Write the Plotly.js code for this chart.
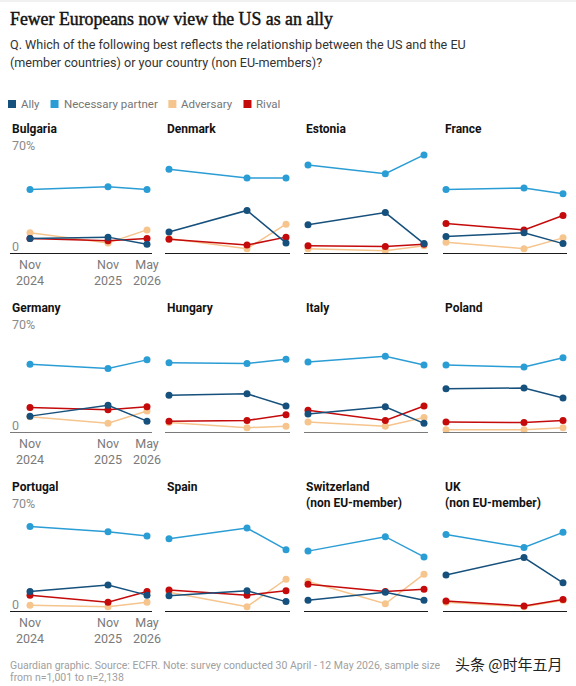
<!DOCTYPE html>
<html><head><meta charset="utf-8">
<script src="https://cdn.plot.ly/plotly-3.0.1.min.js"></script>
<style>html,body{margin:0;padding:0;background:#fff}</style>
</head><body><div id="chart" style="width:576px;height:686px"></div>
<script>
// ---- data ----
const countries = ['Bulgaria','Denmark','Estonia','France','Germany','Hungary','Italy','Poland','Portugal','Spain','Switzerland<br>(non EU-member)','UK<br>(non EU-member)'];
const months = [0, 12, 18]; // months since Nov 2024
const tickLabels = ['Nov<br>2024','Nov<br>2025','May<br>2026'];
const seriesNames = ['Ally','Necessary partner','Adversary','Rival'];
const ally      = [[10,11,6],[14.5,29.5,7],[19.5,28,6.5],[11.5,14,6.5],[11,18.5,7.5],[25.5,26.5,18],[12.5,17.5,6],[30,30.5,23.5],[13.5,18,11],[10.5,14,6.5],[7.5,13,7.5],[25,37,19.5]];
const partner   = [[44,46,44],[58,52,52],[61,55,68],[44,45,41],[47,44,50],[48,47.5,50.5],[48.5,52.5,46.5],[46.5,45,51.5],[58.5,55,52],[50,57.5,42.5],[41.5,51.5,37.5],[53,44,54.5]];
const adversary = [[14,7,16],[10,3,20],[3,1.5,5],[7.5,3,10.5],[10.5,6,14.5],[6.5,3,4],[7,4,10],[1.5,1.5,3],[4,3,6],[13,3,22],[20.5,5,25.5],[6,3,7.5]];
const rival     = [[10,8.5,10],[9.5,5.5,11],[5,4.5,6],[20.5,16,26],[17,15.5,17.5],[7.5,8,12],[15,8,18],[7,6.5,8],[11,6,13.5],[14.5,11,14],[18.5,13.5,15],[7,3.5,8]];
const yTickVals = [0, 70];
const yTickText = ['0', '70%'];

// ---- styling / layout ----
const colors = {'Ally':'#16507c','Necessary partner':'#2b9dd5','Adversary':'#f6c48d','Rival':'#c40a0a'};
const seriesData = {'Ally':ally,'Necessary partner':partner,'Adversary':adversary,'Rival':rival};
const drawOrder = ['Adversary','Rival','Ally','Necessary partner'];
const W = 576, H = 686;
const SANS = 'Roboto, "Noto Sans", sans-serif';
const colPix = [[10,152,30,147],[165,290,169,286],[304,428,308,424],[443,567,446,563]];
const rowBase = [253,432,611];
const plotH = 101;
const baseColor = ['#1a1a1a','#7a7a7a','#1a1a1a'];
const px = p => p / W;
const py = p => 1 - p / H;

const traces = [];
const layout = {
  width: W, height: H,
  margin: {l:0, r:0, t:0, b:0},
  paper_bgcolor: '#fff', plot_bgcolor: 'rgba(0,0,0,0)',
  showlegend: false,
  font: {family: SANS},
  annotations: [], shapes: []
};

countries.forEach((name, i) => {
  const r = Math.floor(i / 4), c = i % 4;
  const id = i === 0 ? '' : String(i + 1);
  const [a, b, p0, p1] = colPix[c];
  const k = (p1 - p0) / (months[months.length-1] - months[0]);
  const base = rowBase[r];
  layout['xaxis' + id] = {
    domain: [px(a), px(b)], anchor: 'y' + id,
    range: [months[0] - (p0 - a) / k, months[months.length-1] + (b - p1) / k],
    showline: true, linecolor: baseColor[r], linewidth: 1,
    showgrid: false, zeroline: false, ticks: '',
    tickvals: months, ticktext: tickLabels,
    showticklabels: c === 0,
    tickfont: {family: SANS, size: 12.5, color: '#7a7a7a'},
    fixedrange: true
  };
  layout['yaxis' + id] = {
    domain: [py(base), py(base - plotH)], anchor: 'x' + id,
    range: [yTickVals[0], yTickVals[1]],
    showline: false, showgrid: false, zeroline: false, showticklabels: false, fixedrange: true
  };
  drawOrder.forEach(s => {
    traces.push({
      type: 'scatter', mode: 'lines+markers', name: s,
      x: months, y: seriesData[s][i],
      xaxis: 'x' + id, yaxis: 'y' + id, cliponaxis: false,
      line: {color: colors[s], width: 1.5},
      marker: {color: colors[s], size: 7},
      hoverinfo: 'skip'
    });
  });
  // panel title
  layout.annotations.push({
    xref: 'paper', yref: 'paper', x: px(a), y: py(base - 133), xanchor: 'left', yanchor: 'top',
    text: '<b>' + name + '</b>', showarrow: false, align: 'left',
    font: {family: SANS, size: 12, color: '#121212'}
  });
  if (c === 0) {
    yTickVals.forEach((v, j) => {
      layout.annotations.push({
        xref: 'paper', yref: 'y' + id, x: px(a), y: v, xanchor: 'left', yanchor: 'middle', yshift: 7,
        text: yTickText[j], showarrow: false,
        font: {family: SANS, size: 12.5, color: '#8a8a8a'}
      });
    });
  }
});

// title, subtitle
const titleIndex = layout.annotations.length;
layout.annotations.push({xref:'paper',yref:'paper',x:px(8),y:py(19),xanchor:'left',yanchor:'middle',showarrow:false,
  text:'Fewer Europeans now view the US as an ally', font:{family:'"Liberation Serif", serif', size:17.8, color:'#121212'}});
layout.annotations.push({xref:'paper',yref:'paper',x:px(8),y:py(45),xanchor:'left',yanchor:'middle',showarrow:false,
  text:'Q. Which of the following best reflects the relationship between the US and the EU', font:{family:SANS, size:12.6, color:'#333'}});
layout.annotations.push({xref:'paper',yref:'paper',x:px(8),y:py(63),xanchor:'left',yanchor:'middle',showarrow:false,
  text:'(member countries) or your country (non EU-members)?', font:{family:SANS, size:12.6, color:'#333'}});

// legend (positions from measured text widths)
const legendSize = 11.5;
const ctx = document.createElement('canvas').getContext('2d');
ctx.font = legendSize + 'px Roboto';
let lx = 8;
seriesNames.forEach((s) => {
  layout.shapes.push({type:'rect', xref:'paper', yref:'paper', x0:px(lx), x1:px(lx+8), y0:py(108), y1:py(100),
    fillcolor: colors[s], line:{width:0}});
  layout.annotations.push({xref:'paper',yref:'paper',x:px(lx+11),y:py(104),xanchor:'left',yanchor:'middle',showarrow:false,
    text:s, font:{family:SANS, size:legendSize, color:'#767676'}});
  lx += 11 + ctx.measureText(s).width + 13;
});

// top rule
layout.shapes.push({type:'line', xref:'paper', yref:'paper', x0:0, x1:1, y0:py(1), y1:py(1), line:{color:'#e2e2e2', width:1}});

// footer
layout.annotations.push({xref:'paper',yref:'paper',x:px(8),y:py(665),xanchor:'left',yanchor:'middle',showarrow:false,
  text:'Guardian graphic. Source: ECFR. Note: survey conducted 30 April - 12 May 2026, sample size', font:{family:SANS, size:10.5, color:'#a0a0a0'}});
layout.annotations.push({xref:'paper',yref:'paper',x:px(8),y:py(677),xanchor:'left',yanchor:'middle',showarrow:false,
  text:'from n=1,001 to n=2,138', font:{family:SANS, size:10.5, color:'#a0a0a0'}});
layout.annotations.push({xref:'paper',yref:'paper',x:px(565),y:py(663),xanchor:'right',yanchor:'middle',showarrow:false,
  text:'头条 @时年五月', font:{family:'"Noto Sans CJK SC", sans-serif', size:15, color:'#222'}});

Plotly.newPlot('chart', traces, layout, {staticPlot: true, displayModeBar: false}).then(() => {
  const st = document.createElement('style');
  st.textContent = '#chart g.annotation[data-index="' + titleIndex + '"] text{stroke:#121212;stroke-width:0.45px;}';
  document.head.appendChild(st);
});
</script></body></html>
